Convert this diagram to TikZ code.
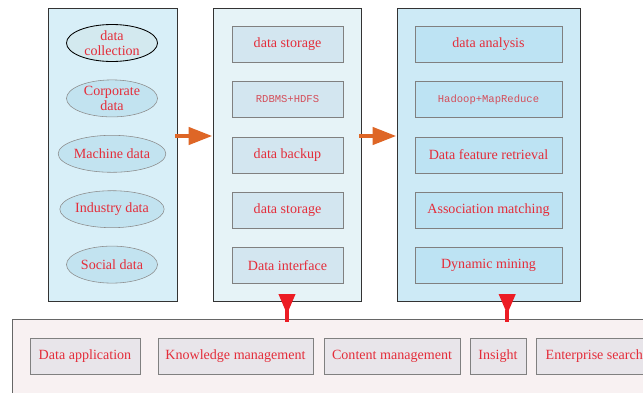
\documentclass[tikz,border=0pt]{standalone}
\usepackage{fontspec}
\setmainfont{Liberation Serif}
\setmonofont{Liberation Mono}
\usetikzlibrary{shapes.geometric, arrows.meta}
\definecolor{txtred}{RGB}{228,45,58}
\definecolor{monored}{RGB}{212,78,90}
\definecolor{arroworange}{RGB}{222,102,38}
\definecolor{arrowred}{RGB}{236,28,36}
\tikzstyle{panel} = [rectangle, inner sep=0pt, draw=black!80, line width=0.6pt]
\tikzstyle{source} = [ellipse, inner sep=0pt, minimum width=2.275cm, minimum height=0.925cm, align=center, text=txtred, draw=black!45, fill={rgb,255:red,194;green,227;blue,240}, font=\fontsize{10}{11}\selectfont]
\tikzstyle{block} = [rectangle, inner sep=0pt, minimum height=0.9cm, align=center, text=txtred, draw=black!50, font=\fontsize{10}{11}\selectfont]
\tikzstyle{orangearrow} = [line width=3.5pt, draw=arroworange, -{Triangle[width=0.42cm,length=0.6cm]}, arroworange]
\tikzstyle{redhead} = [line width=0pt, draw=arrowred, arrowred, -{Triangle[width=0.43cm,length=0.5cm]}]
\tikzstyle{redstem} = [line width=3pt, draw=arrowred]

\begin{document}
\begin{tikzpicture}[node distance=1.385cm]
            \clip (0,0) rectangle (16.075,9.8);

            % three stage panels and the application panel
            \node(collect) [panel, fill={rgb,255:red,216;green,239;blue,248}, minimum width=3.225cm, minimum height=7.325cm] at (2.8125,5.9375) {};
            \node(store) [panel, fill={rgb,255:red,230;green,243;blue,247}, minimum width=3.7cm, minimum height=7.325cm] at (7.175,5.9375) {};
            \node(analyse) [panel, fill={rgb,255:red,205;green,234;blue,246}, minimum width=4.575cm, minimum height=7.325cm] at (12.2125,5.9375) {};
            \node(apply) [panel, draw=black!60, fill={rgb,255:red,248;green,241;blue,242}, minimum width=17cm, minimum height=3cm, anchor=north west] at (0.3,1.825) {};

            % data collection
            \node(src0) [source, draw=black, line width=0.6pt, fill={rgb,255:red,211;green,233;blue,239}] at (2.8,8.725) {data\\collection};
            \node(src1) [source, below of=src0] {Corporate\\data};
            \node(src2) [source, below of=src1] {Machine data};
            \node(src3) [source, below of=src2] {Industry data};
            \node(src4) [source, below of=src3] {Social data};

            % data storage
            \node(st0) [block, minimum width=2.775cm, fill={rgb,255:red,211;green,230;blue,240}] at (7.1875,8.7) {data storage};
            \node(st1) [block, minimum width=2.775cm, fill={rgb,255:red,211;green,230;blue,240}, below of=st0, text=monored, font=\fontsize{7.5}{9}\ttfamily] {RDBMS+HDFS};
            \node(st2) [block, minimum width=2.775cm, fill={rgb,255:red,211;green,230;blue,240}, below of=st1] {data backup};
            \node(st3) [block, minimum width=2.775cm, fill={rgb,255:red,211;green,230;blue,240}, below of=st2] {data storage};
            \node(st4) [block, minimum width=2.775cm, fill={rgb,255:red,211;green,230;blue,240}, below of=st3] {Data interface};

            % data analysis
            \node(an0) [block, minimum width=3.675cm, fill={rgb,255:red,189;green,227;blue,243}] at (12.2125,8.7) {data analysis};
            \node(an1) [block, minimum width=3.675cm, fill={rgb,255:red,189;green,227;blue,243}, below of=an0, text=monored, font=\fontsize{7.5}{9}\ttfamily] {Hadoop+MapReduce};
            \node(an2) [block, minimum width=3.675cm, fill={rgb,255:red,189;green,227;blue,243}, below of=an1] {Data feature retrieval};
            \node(an3) [block, minimum width=3.675cm, fill={rgb,255:red,189;green,227;blue,243}, below of=an2] {Association matching};
            \node(an4) [block, minimum width=3.675cm, fill={rgb,255:red,189;green,227;blue,243}, below of=an3] {Dynamic mining};

            % applications
            \node(ap0) [block, minimum width=2.75cm, fill={rgb,255:red,232;green,229;blue,234}] at (2.125,0.9) {Data application};
            \node(ap1) [block, minimum width=3.875cm, fill={rgb,255:red,232;green,229;blue,234}] at (5.8875,0.9) {Knowledge management};
            \node(ap2) [block, minimum width=3.4cm, fill={rgb,255:red,232;green,229;blue,234}] at (9.8,0.9) {Content management};
            \node(ap3) [block, minimum width=1.4cm, fill={rgb,255:red,232;green,229;blue,234}] at (12.45,0.9) {Insight};
            \node(ap4) [block, minimum width=2.9cm, fill={rgb,255:red,232;green,229;blue,234}, anchor=west] at (13.4,0.9) {Enterprise search};

            % arrows
            \coordinate(flow) at (0,6.4);
            \draw[orangearrow] ([xshift=-0.05cm]collect.east |- flow) -- (store.west |- flow);
            \draw[orangearrow] ([xshift=-0.05cm]store.east |- flow) -- (analyse.west |- flow);

            \coordinate(down1) at (7.175,2.45);
            \coordinate(down1tip) at (7.175,1.75);
            \coordinate(down2) at (12.68,2.45);
            \coordinate(down2tip) at (12.68,1.75);
            \draw[redstem] ([yshift=-0.4cm]down1) -- (down1tip);
            \draw[redhead] (down1) -- ([yshift=-0.5cm]down1);
            \draw[redstem] ([yshift=-0.4cm]down2) -- (down2tip);
            \draw[redhead] (down2) -- ([yshift=-0.5cm]down2);
        \end{tikzpicture}
\end{document}
